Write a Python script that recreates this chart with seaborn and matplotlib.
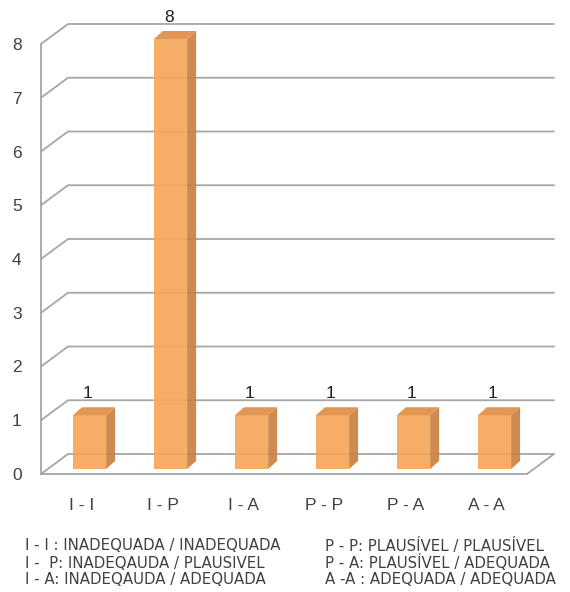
import matplotlib
matplotlib.use("Agg")
import matplotlib.pyplot as plt
import matplotlib.transforms as mtransforms
from matplotlib.lines import Line2D
from matplotlib.patches import Polygon
import numpy as np
import pandas as pd
import seaborn as sns

categories = ["I - I", "I - P", "I - A", "P - P", "P - A", "A - A"]
counts = [1, 8, 1, 1, 1, 1]
y_ticks = [0, 1, 2, 3, 4, 5, 6, 7, 8]
legend_left = ["I - I : INADEQUADA / INADEQUADA",
               "I -  P: INADEQAUDA / PLAUSIVEL",
               "I - A: INADEQAUDA / ADEQUADA"]
legend_right = ["P - P: PLAUSÍVEL / PLAUSÍVEL",
                "P - A: PLAUSÍVEL / ADEQUADA",
                "A -A : ADEQUADA / ADEQUADA"]

sns.set_theme(style="white")
plt.rcParams["font.family"] = ["Liberation Sans", "DejaVu Sans"]

DPI = 100
W, H = 570, 592
GRID = "#a6a6a6"
TXT = "#404040"
FRONT, SIDE, TOP = "#f5a65b", "#c98142", "#e0904a"

# pseudo-3d offsets in pixels (display coords, y up)
WALL = np.array([27, 20])
BAR_FRONT = np.array([8, 5])
BAR_DEPTH = np.array([9, 8])

fig = plt.figure(figsize=(W / DPI, H / DPI), dpi=DPI)
ax = fig.add_axes([41 / W, 118 / H, 486 / W, 430 / H])

df = pd.DataFrame({"cat": categories, "n": counts})
sns.barplot(data=df, x="cat", y="n", color=FRONT, saturation=1, width=0.41,
            ax=ax, zorder=3)
ax.set_xlim(-0.5, len(categories) - 0.5)
ax.set_ylim(0, max(y_ticks))
ax.set_yticks(y_ticks)
ax.set_xlabel("")
ax.set_ylabel("")


def shift(dx, dy):
    return mtransforms.ScaledTranslation(dx / DPI, dy / DPI, fig.dpi_scale_trans)


ident = mtransforms.IdentityTransform()
x0, x1 = ax.get_xlim()

# back wall gridlines + floor
for k in y_ticks:
    f = ax.transData.transform((x0, k))
    r = ax.transData.transform((x1, k))
    pts = np.array([f, f + WALL, r + WALL])
    ax.add_line(Line2D(pts[:, 0], pts[:, 1], color=GRID, lw=1.3,
                       transform=ident, clip_on=False, zorder=1))
r0 = ax.transData.transform((x1, 0))
ax.add_line(Line2D([r0[0], r0[0] + WALL[0]], [r0[1], r0[1] + WALL[1]],
                   color=GRID, lw=1.3, transform=ident, clip_on=False, zorder=1))

# bars: front face shifted into the depth, plus side and top faces
front_tr = ax.transData + shift(*BAR_FRONT)
for p in ax.patches:
    bx, bw, bh = p.get_x(), p.get_width(), p.get_height()
    p.set_transform(front_tr)
    p.set_edgecolor("none")
    p.set_alpha(0.92)
    p.set_clip_on(False)
    c = front_tr.transform([(bx, 0), (bx + bw, 0), (bx + bw, bh), (bx, bh)])
    side = np.array([c[1], c[2], c[2] + BAR_DEPTH, c[1] + BAR_DEPTH])
    top = np.array([c[3], c[2], c[2] + BAR_DEPTH, c[3] + BAR_DEPTH])
    ax.add_patch(Polygon(side, closed=True, facecolor=SIDE, edgecolor="none",
                         alpha=0.92, transform=ident, clip_on=False, zorder=3))
    ax.add_patch(Polygon(top, closed=True, facecolor=TOP, edgecolor="none",
                         alpha=0.95, transform=ident, clip_on=False, zorder=3))

# value labels
for i, v in enumerate(counts):
    ax.annotate(str(v), xy=(i, v), xytext=(4.5, 13.5), textcoords="offset points",
                ha="center", va="bottom", fontsize=12.5, color="#202020",
                annotation_clip=False)

# axes styling
sns.despine(ax=ax, top=True, right=True)
for s in ("left", "bottom"):
    ax.spines[s].set_color(GRID)
    ax.spines[s].set_linewidth(1.3)
ax.set_xticks(np.arange(x0, x1 + 0.01, 1), minor=True)
ax.tick_params(axis="x", which="major", length=0, pad=17, labelsize=12.5, labelcolor=TXT)
ax.tick_params(axis="x", which="minor", length=5, width=1.3, color=GRID, direction="out")
ax.tick_params(axis="y", length=5, width=1.3, color=GRID, direction="out",
               pad=9, labelsize=12.5, labelcolor=TXT)
ax.set_facecolor("none")

# legend text below the chart
for j, (a, b) in enumerate(zip(legend_left, legend_right)):
    y = 1 - (546 + j * 17) / H
    fig.text(25 / W, y, a, fontsize=10.8, color="#404040", va="center", ha="left",
             family="DejaVu Sans")
    fig.text(325 / W, y, b, fontsize=10.8, color="#404040", va="center", ha="left",
             family="DejaVu Sans")

fig.savefig("out.png", dpi=DPI, facecolor="white")
